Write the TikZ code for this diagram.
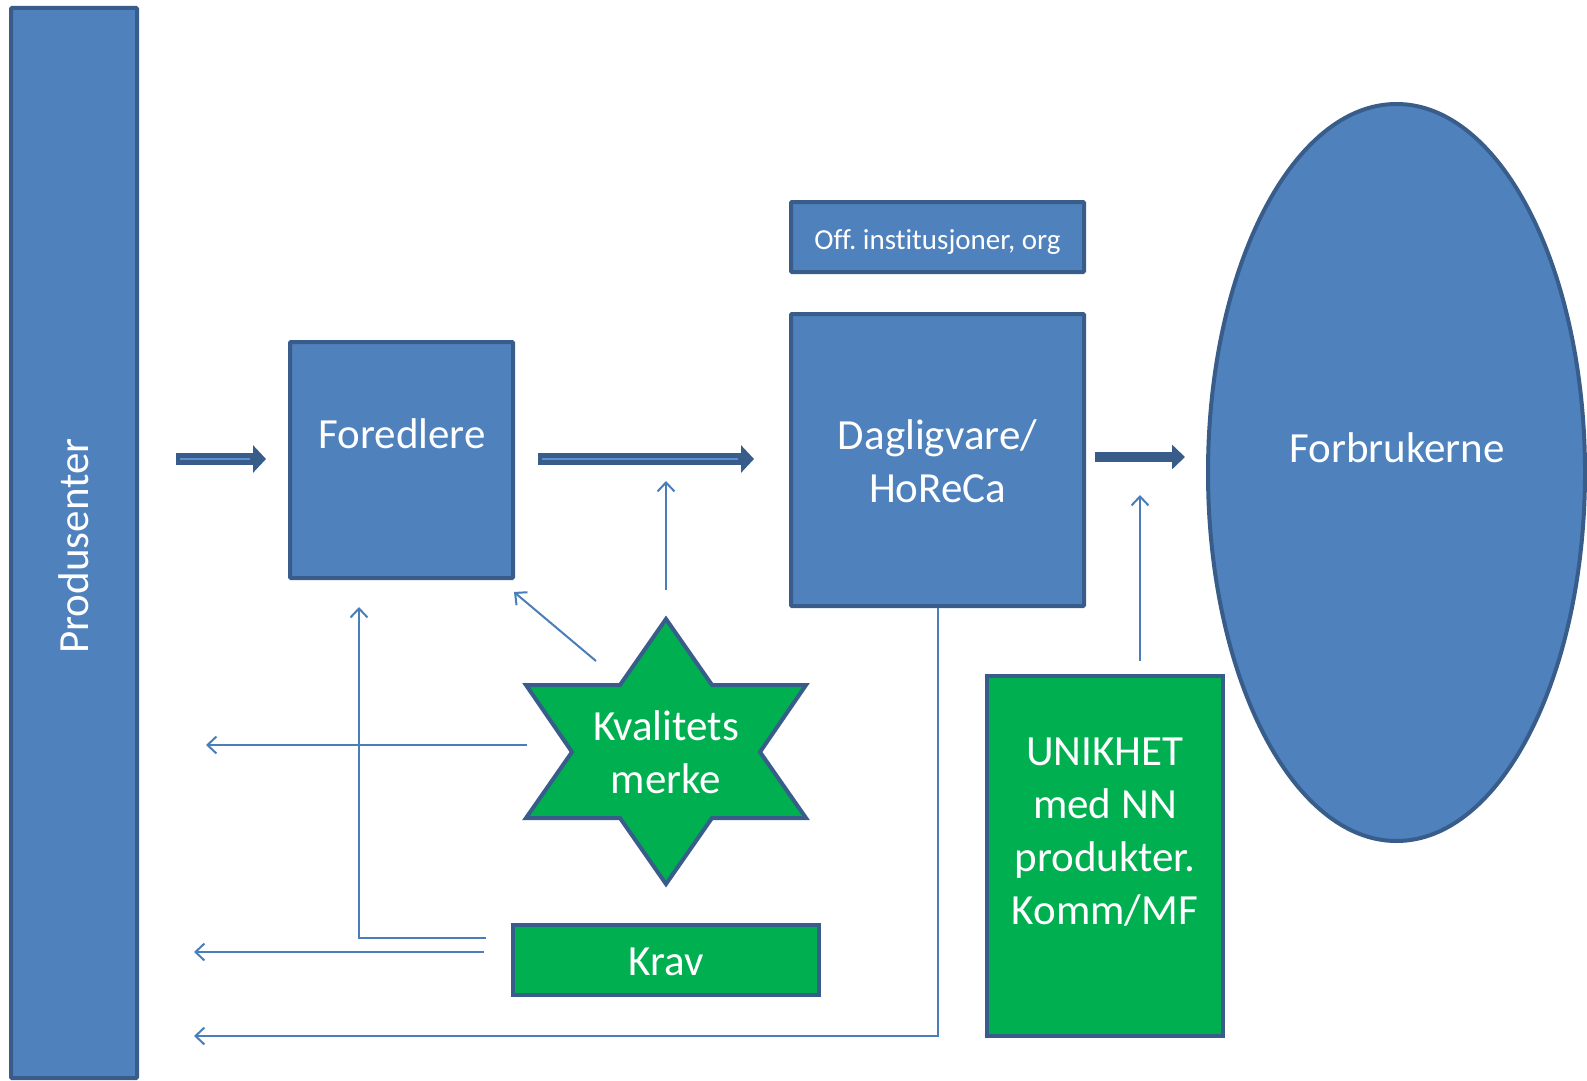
\documentclass[tikz,border=0pt]{standalone}
\usepackage{fontspec}
\setmainfont{Carlito}[Ligatures=NoCommon]
\usetikzlibrary{arrows.meta,shapes.geometric}
\definecolor{boxblue}{HTML}{4F81BD}
\definecolor{edgeblue}{HTML}{385D8A}
\definecolor{boxgreen}{HTML}{00B050}
\definecolor{linkblue}{HTML}{4A7EBB}
\definecolor{arrowlight}{HTML}{5B8FD0}
\begin{document}
\begin{tikzpicture}[x=1pt,y=-1pt,
  bluebox/.style={draw=edgeblue, fill=boxblue, line width=4pt, inner sep=0pt, rounded corners=1pt},
  greenbox/.style={draw=edgeblue, fill=boxgreen, line width=4pt, inner sep=0pt},
  bigtext/.style={text=white, font=\fontsize{43}{53}\selectfont, inner sep=0pt, align=center},
  smalltext/.style={text=white, font=\fontsize{29}{34}\selectfont, inner sep=0pt},
  thinarrow/.style={draw=linkblue, line width=2pt, -{Straight Barb[length=9pt,width=17pt]}},
  thickarrow/.style={draw=edgeblue, line width=12pt, -{Triangle[length=13pt,width=27pt]}},
  thickarrowsolid/.style={draw=edgeblue, line width=10pt, -{Triangle[length=13pt,width=24pt]}},
  lightcore/.style={draw=arrowlight, line width=2.5pt}]
\useasboundingbox (0,0) rectangle (1587,1081);

% Nodes
\node[bluebox, minimum width=126pt, minimum height=1070pt] (prod) at (74,543) {};
\node[bigtext, rotate=90] (prodlabel) at (74,546) {Produsenter};

\node[bluebox, minimum width=223pt, minimum height=236pt] (fored) at (401.5,460) {};
\node[bigtext] (foredlabel) at (402,434) {Foredlere};

\node[bluebox, minimum width=293pt, minimum height=70pt] (off) at (937.5,237) {};
\node[smalltext] (offlabel) at (937.5,242) {Off.\ institusjoner, org};

\node[bluebox, minimum width=293pt, minimum height=292pt] (dag) at (937.5,460) {};
\node[bigtext] (daglabel) at (937.5,461) {Dagligvare/\\HoReCa};

\node[ellipse, draw=edgeblue, fill=boxblue, line width=4pt, minimum width=377pt, minimum height=737pt, inner sep=0pt] (forb) at (1396.5,472.5) {};
\node[bigtext] (forblabel) at (1397,448) {Forbrukerne};

\node[greenbox, minimum width=236pt, minimum height=360pt] (unik) at (1105,856) {};
\node[bigtext] (uniklabel) at (1105,832) {UNIKHET\\med NN\\produkter.\\Komm/MF};

\node[greenbox, minimum width=306pt, minimum height=70pt] (krav) at (666,960) {};
\node[bigtext] (kravlabel) at (666,962) {Krav};

% Star
\draw[draw=edgeblue, fill=boxgreen, line width=4pt, line join=miter]
  (666,619) -- (712,685) -- (806,685) -- (760,752) -- (806,818) -- (712,818)
  -- (666,884) -- (620,818) -- (526,818) -- (572,752) -- (526,685) -- (620,685) -- cycle;
\node[bigtext] (starlabel) at (666,752) {Kvalitets\\merke};

% Thick arrows
\coordinate (a1s) at (176,459); \coordinate (a1e) at (266,459);
\coordinate (a2s) at (538,459); \coordinate (a2e) at (754,459);
\coordinate (a3s) at (1095,457); \coordinate (a3e) at (1185,457);
\draw[thickarrow] (a1s) -- (a1e);
\draw[lightcore] ([xshift=4pt]a1s) -- ([xshift=-16pt]a1e);
\draw[thickarrow] (a2s) -- (a2e);
\draw[lightcore] ([xshift=4pt]a2s) -- ([xshift=-16pt]a2e);
\draw[thickarrowsolid] (a3s) -- (a3e);

% Thin arrows
\coordinate (t1s) at (666,590); \coordinate (t1e) at (666,481);
\draw[thinarrow] (t1s) -- (t1e);
\coordinate (t2s) at (596,661); \coordinate (t2e) at (514,592);
\draw[thinarrow] (t2s) -- (t2e);
\coordinate (t3s) at (527,745); \coordinate (t3e) at (206,745);
\draw[thinarrow] (t3s) -- (t3e);
\coordinate (t4s) at (486,938); \coordinate (t4e) at (359,607);
\draw[thinarrow] (t4s) -| (t4e);
\coordinate (t5s) at (484,952); \coordinate (t5e) at (194,952);
\draw[thinarrow] (t5s) -- (t5e);
\coordinate (t6e) at (194,1036);
\draw[thinarrow] (dag.south) -- (dag.south |- t6e) -- (t6e);
\coordinate (t7s) at (1140,661); \coordinate (t7e) at (1140,495);
\draw[thinarrow] (t7s) -- (t7e);
\end{tikzpicture}
\end{document}
